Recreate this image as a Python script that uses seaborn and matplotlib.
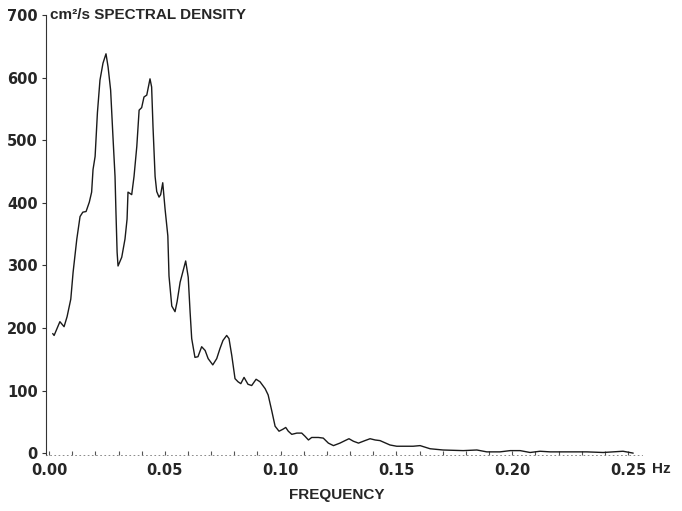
import numpy as np
import pandas as pd
import matplotlib
matplotlib.use("Agg")
import matplotlib.pyplot as plt
import seaborn as sns

# spectral density curve (Hz, cm^2/s)
freq = [0.0016, 0.0022, 0.0047, 0.0065, 0.0078, 0.0094, 0.0104, 0.0120, 0.0134, 0.0146,
        0.0160, 0.0174, 0.0184, 0.0190, 0.0199, 0.0209, 0.0220, 0.0233, 0.0246, 0.0255,
        0.0266, 0.0276, 0.0285, 0.0289, 0.0294, 0.0298, 0.0314, 0.0328, 0.0337, 0.0341,
        0.0357, 0.0367, 0.0379, 0.0389, 0.0400, 0.0410, 0.0422, 0.0429, 0.0436, 0.0443,
        0.0449, 0.0458, 0.0465, 0.0475, 0.0482, 0.0491, 0.0501, 0.0513, 0.0518, 0.0530,
        0.0544, 0.0553, 0.0566, 0.0590, 0.0601, 0.0609, 0.0616, 0.0630, 0.0643, 0.0659,
        0.0674, 0.0687, 0.0707, 0.0724, 0.0738, 0.0751, 0.0767, 0.0777, 0.0789, 0.0803,
        0.0816, 0.0828, 0.0842, 0.0859, 0.0875, 0.0894, 0.0911, 0.0933, 0.0946, 0.0962,
        0.0976, 0.0993, 0.1009, 0.1022, 0.1033, 0.1048, 0.1070, 0.1091, 0.1105, 0.1120,
        0.1134, 0.1163, 0.1184, 0.1206, 0.1228, 0.1256, 0.1278, 0.1295, 0.1314, 0.1336,
        0.1364, 0.1386, 0.1408, 0.1429, 0.1472, 0.1501, 0.1572, 0.1602, 0.1645, 0.1701,
        0.1788, 0.1847, 0.1890, 0.1947, 0.1991, 0.2034, 0.2077, 0.2120, 0.2163, 0.2250,
        0.2322, 0.2392, 0.2478, 0.2522]
density = [191, 188, 210, 202, 218, 246, 289, 342, 378, 385,
           386, 401, 417, 453, 474, 544, 596, 623, 638, 617,
           580, 506, 442, 385, 321, 299, 313, 342, 374, 417,
           413, 442, 490, 548, 552, 569, 572, 585, 598, 585,
           521, 442, 418, 409, 413, 432, 390, 347, 283, 235,
           226, 242, 273, 307, 281, 226, 183, 153, 154, 170,
           164, 151, 141, 151, 167, 180, 188, 183, 156, 119,
           114, 111, 121, 110, 108, 118, 114, 103, 93, 67,
           43, 35, 38, 41, 35, 30, 32, 32, 27, 21,
           25, 25, 24, 16, 12, 16, 20, 23, 19, 16,
           20, 23, 21, 20, 13, 11, 11, 12, 7, 5,
           4, 5, 2, 2, 4, 4, 1, 3, 2, 2,
           2, 1, 3, 0]

x_ticks = [0.00, 0.05, 0.10, 0.15, 0.20, 0.25]
x_ticklabels = ["0.00", "0.05", "0.10", "0.15", "0.20", "0.25"]
y_ticks = [0, 100, 200, 300, 400, 500, 600, 700]

df = pd.DataFrame({"freq": freq, "density": density})

sns.set_style("ticks")
plt.rcParams["font.family"] = ["Liberation Sans", "DejaVu Sans"]

fig = plt.figure(figsize=(6.82, 5.11), dpi=100)
ax = fig.add_axes([46 / 682, 56 / 511, (642 - 46) / 682, (455 - 15) / 511])

sns.lineplot(data=df, x="freq", y="density", sort=False, color="#1a1a1a",
             linewidth=1.0, ax=ax)

ax.set_xlim(-0.0013, 0.256)
ax.set_ylim(-3, 700)

tick_font = {"family": "DejaVu Sans", "size": 10.5, "weight": "bold"}
ax.set_xticks(x_ticks)
ax.set_xticklabels(x_ticklabels, fontdict=tick_font)
ax.set_xticks(np.arange(0.0, 0.251, 0.01), minor=True)
ax.set_yticks(y_ticks)
ax.set_yticklabels([str(v) for v in y_ticks], fontdict=tick_font)

ax.tick_params(axis="x", which="both", direction="in", length=3, width=0.8,
               color="#555555", pad=6)
ax.tick_params(axis="y", direction="out", length=3, width=0.8, color="#333333", pad=3)

sns.despine(ax=ax)
ax.spines["left"].set_linewidth(0.8)
ax.spines["left"].set_color("#333333")
ax.spines["bottom"].set_linestyle((0, (1, 4)))
ax.spines["bottom"].set_linewidth(0.6)
ax.spines["bottom"].set_color("#777777")

ax.set_xlabel("")
ax.set_ylabel("")

fig.text(50 / 682, 1 - 15 / 511, "cm²/s SPECTRAL DENSITY", fontsize=11,
         fontweight="bold", ha="left", va="center")
fig.text(337 / 682, 1 - 495 / 511, "FREQUENCY", fontsize=11, fontweight="bold",
         ha="center", va="center")
fig.text(652 / 682, 1 - 469 / 511, "Hz", fontsize=11, fontweight="bold",
         ha="left", va="center")

fig.savefig("out.png", dpi=100)
